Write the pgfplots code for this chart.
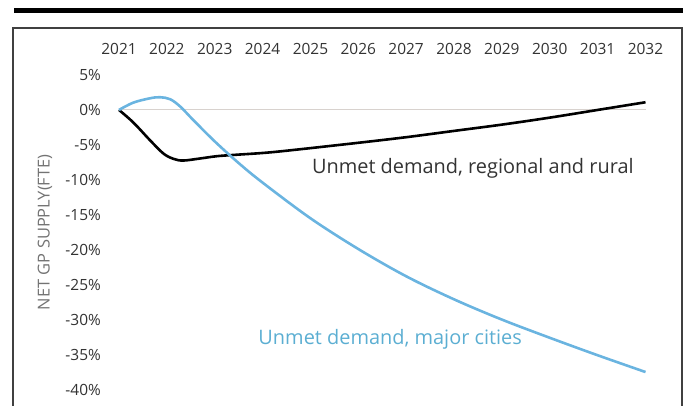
\documentclass[border=0pt]{standalone}
\usepackage{pgfplots}
\pgfplotsset{compat=1.18}
\usepackage{fontspec}
\setmainfont{Open Sans}
\definecolor{cityblue}{HTML}{6AB4E0}
\definecolor{citytext}{HTML}{5BAED2}
\definecolor{ticktext}{HTML}{333333}
\definecolor{zeroline}{HTML}{D8D2CE}
\begin{document}
\begin{tikzpicture}[x=1bp,y=1bp]
\useasboundingbox (-119bp,-16.5bp) rectangle (564bp,389.5bp);
\fill[black] (-104.7bp,376.2bp) rectangle (564bp,381.2bp);
\draw[line width=1.6bp, black!75] (-105.7bp,-25bp) -- (-105.7bp,361.2bp) -- (562.7bp,361.2bp) -- (562.7bp,-25bp);
\begin{axis}[
  at={(0,0)}, anchor=south west,
  scale only axis, width=526.5bp, height=314.5bp,
  xmin=2021, xmax=2032, ymin=-40, ymax=5,
  axis line style={draw=none},
  major tick length=0pt,
  xtick={2021,2022,...,2032},
  xticklabels={2021,2022,2023,2024,2025,2026,2027,2028,2029,2030,2031,2032},
  xticklabel pos=upper,
  x tick label style={anchor=base, inner sep=0pt, yshift=20bp, font=\fontsize{15.5}{17}\selectfont, text=ticktext},
  ytick={-40,-35,...,5},
  yticklabels={-40\%,-35\%,-30\%,-25\%,-20\%,-15\%,-10\%,-5\%,0\%,5\%},
  y tick label style={anchor=east, inner sep=0pt, xshift=-18bp, font=\fontsize{15.5}{17}\selectfont, text=ticktext},
  clip=false,
]
\addplot[zeroline, line width=1bp, forget plot] coordinates {(2021,0) (2032,0)};
\addplot[black, line width=2.6bp, smooth, tension=0.55] coordinates {
(2021,0) (2021.3,-1.8) (2021.65,-4.35) (2021.93,-6.25) (2022.14,-7.0) (2022.34,-7.24)
(2022.69,-6.95) (2023.04,-6.62) (2023.39,-6.44) (2024.09,-6.11) (2024.79,-5.62)
(2026,-4.7) (2027,-3.9) (2028,-3.0) (2029,-2.1)
(2030,-1.1) (2031,0.0) (2032,1.1)};
\addplot[cityblue, line width=2.6bp, smooth, tension=0.55] coordinates {
(2021,0) (2021.3,1.05) (2021.65,1.67) (2021.86,1.82) (2022.07,1.53) (2022.28,0.48)
(2022.55,-1.43) (2023.0,-4.5) (2023.5,-7.6) (2024,-10.4) (2025,-15.5) (2026,-19.9)
(2027,-23.8) (2028,-27.1) (2029,-30.0) (2030,-32.6) (2031,-35.1) (2032,-37.5)};
\node[anchor=base west, inner sep=0pt, text=black!80, font=\fontsize{20}{22}\selectfont] at (axis cs:2025.03,-9.06) {Unmet demand, regional and rural};
\node[anchor=base west, inner sep=0pt, text=citytext, font=\fontsize{20}{22}\selectfont] at (axis cs:2023.91,-33.63) {Unmet demand, major cities};
\end{axis}
\node[rotate=90, inner sep=0pt, text=black!55, font=\fontsize{16.5}{18}\selectfont] at (-74bp,157.25bp) {NET GP SUPPLY(FTE)};
\end{tikzpicture}
\end{document}
